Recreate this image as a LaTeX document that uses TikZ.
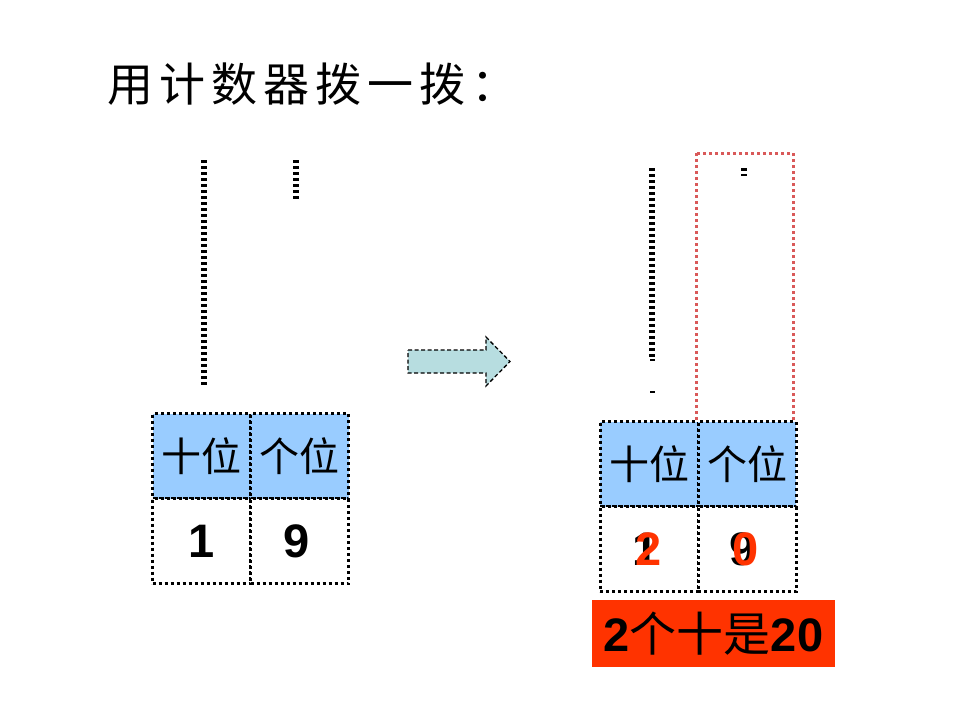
\documentclass[tikz,border=0pt]{standalone}
\usepackage{fontspec}
\setmainfont{Liberation Sans}
\newfontfamily\cjk{Noto Sans CJK SC}
\newfontfamily\cjktitle[LetterSpace=13]{Noto Sans CJK SC}
\usetikzlibrary{positioning}
\definecolor{headblue}{RGB}{153,204,255}
\definecolor{tenred}{RGB}{255,51,0}
\definecolor{rodred}{RGB}{217,89,89}
\definecolor{arrowcyan}{RGB}{183,221,224}

\begin{document}
\begin{tikzpicture}[x=1pt,y=-1pt,node distance=0pt,
  cell/.style={draw,line width=3pt,dash pattern=on 3pt off 3pt,
    minimum width=98pt,minimum height=85pt,inner sep=0pt,outer sep=0pt},
  headcell/.style={cell,fill=headblue,font=\cjk\fontsize{40}{40}\selectfont},
  numcell/.style={cell,fill=white},
  digit/.style={font=\bfseries\fontsize{47}{47}\selectfont,inner sep=0pt},
  beads/.style={line width=6pt,dash pattern=on 3.2pt off 2.8pt},
  thinbead/.style={line width=1.2pt}]
\useasboundingbox[fill=white] (0,0) rectangle (960,720);

\node[anchor=west,font=\cjktitle\fontsize{46}{46}\selectfont] (title) at (104,84) {用计数器拨一拨：};

% left counter: 19
\draw[beads] (204,160) -- (204,385);
\draw[beads] (296,160) -- (296,199);
\node[headcell] (ltens) at (201.5,456) {十位};
\node[headcell,right=of ltens] (lones) {个位};
\node[numcell,below=of ltens] (ltensnum) {};
\node[numcell,below=of lones] (lonesnum) {};
\node[digit] (lone) at (ltensnum.center) {1};
\node[digit] (lnine) at ([xshift=-3pt]lonesnum.center) {9};

% arrow
\draw[dash pattern=on 4pt off 2.5pt,line width=1.3pt,fill=arrowcyan]
  (408,350) -- (486,350) -- (486,337) -- (510,361.5) -- (486,386) -- (486,373) -- (408,373) -- cycle;

% right counter: 20
\draw[rodred,line width=3pt,dash pattern=on 3pt off 3pt] (696,153) rectangle (793,430);
\draw[beads] (652,168) -- (652,358);
\draw[thinbead] (650,360) -- (655,360);
\draw[thinbead] (650,392) -- (655,392);
\draw[line width=3pt] (741,169.5) -- (747,169.5);
\draw[thinbead] (741,175) -- (747,175);
\node[headcell] (rtens) at (649,464) {十位};
\node[headcell,right=of rtens] (rones) {个位};
\node[numcell,below=of rtens] (rtensnum) {};
\node[numcell,below=of rones] (ronesnum) {};
\node[digit] (rone) at ([xshift=-3pt]rtensnum.center) {1};
\node[digit,text=tenred] (rtwo) at (rtensnum.center) {2};
\node[digit] (rnine) at ([xshift=-4pt]ronesnum.center) {9};
\node[digit,text=tenred] (rzero) at ([xshift=-1pt]ronesnum.center) {0};

\node[fill=tenred,minimum width=243pt,minimum height=67pt,inner sep=0pt] (sum) at (713.5,633.5)
  {\bfseries\fontsize{47}{47}\selectfont 2{\mdseries\cjk 个十是}20};
\end{tikzpicture}
\end{document}
